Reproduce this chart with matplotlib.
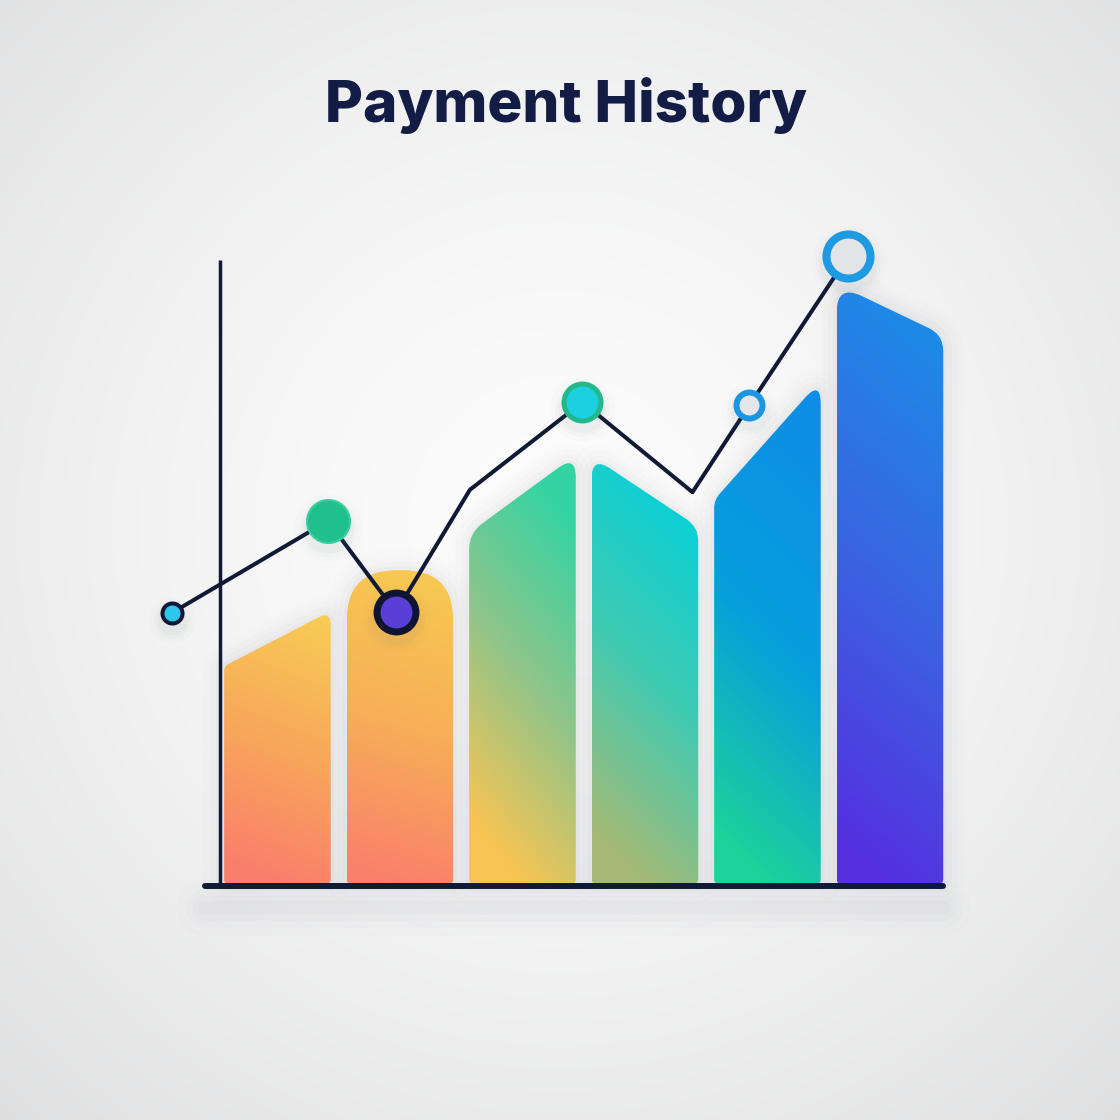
import numpy as np
import matplotlib.pyplot as plt
from matplotlib.path import Path
from matplotlib.patches import PathPatch
from matplotlib.colors import LinearSegmentedColormap

## data
periods = ['Jan', 'Feb', 'Mar', 'Apr', 'May', 'Jun']
bar_left = [36.3, 52.3, 58.5, 71.3, 64.0, 100.0]   # height at left edge of bar
bar_right = [45.5, 52.3, 71.5, 59.5, 84.0, 91.5]   # height at right edge of bar

line_x = [-0.861, 0.412, 0.967, 1.571, 2.490, 3.388, 3.853, 4.661]
line_y = [45.2, 60.5, 45.3, 65.7, 80.3, 65.3, 79.8, 104.7]

## styles
bar_width = 0.87
corner_r = [(5, 4, 14, 5), (5, 50, 50, 5), (5, 16, 22, 5),
            (5, 22, 14, 5), (5, 8, 24, 5), (5, 28, 16, 5)]   # px: bl, tl, tr, br
bar_colors = [('#fa7e6c', '#f8a65b', '#f7c955'),
              ('#fa806b', '#f7ae58', '#f7c852'),
              ('#f8c454', '#8fc58a', '#33d4a4'),
              ('#a5ba76', '#3fcbb3', '#08d0d8'),
              ('#1ed29b', '#069fdc', '#0d8ee6'),
              ('#5530e0', '#3a64e2', '#1c8ce8')]    # bottom, mid, top
tilt = [0.15, 0.1, 0.3, 0.25, 0.2, 0.15]

# which line points get a marker: fill, edge, size (pt), edge width
markers = {0: ('#2fc6ee', '#101836', 14.4, 2.9),
           1: ('#20c08c', '#3ad0a0', 31.0, 1.5),
           2: ('#5a3fd6', '#0f1530', 28.0, 5.0),
           4: ('#1ecfe0', '#22b88a', 26.6, 3.6),
           6: ('#e4e6ea', '#1c96e0', 18.7, 4.3),
           7: ('#e2e4e8', '#1e9ae2', 31.7, 5.8)}

ink = '#111a35'

fig = plt.figure(figsize=(11.2, 11.2), dpi=100)

# background radial gradient
bg = fig.add_axes([0, 0, 1, 1], zorder=0)
yy, xx = np.mgrid[0:1:400j, 0:1:400j]
d = np.clip(np.hypot(xx - 0.5, yy - 0.47) / 0.72, 0, 1) ** 1.6
c0 = np.array([0.988, 0.988, 0.988])
c1 = np.array([0.875, 0.878, 0.882])
bg.imshow(c0 + (c1 - c0) * d[..., None], extent=[0, 1, 0, 1], aspect='auto')
bg.axis('off')

ax = fig.add_axes([0, 0, 1, 1], zorder=1)
ax.patch.set_alpha(0)
ax.set_xlim(-2.265, 6.878)
ax.set_ylim(-39.33, 147.33)
ax.axis('off')


def rounded_path(pts, radii):
    # round every corner of a polygon (pts in pixels) with quadratic curves
    verts, codes = [], []
    n = len(pts)
    for k in range(n):
        p, a, b = pts[k], pts[k - 1], pts[(k + 1) % n]
        da, db = a - p, b - p
        la, lb = np.hypot(*da), np.hypot(*db)
        r = min(radii[k], la / 2, lb / 2)
        verts += [p + da / la * r, p, p + db / lb * r]
        codes += [Path.MOVETO if k == 0 else Path.LINETO, Path.CURVE3, Path.CURVE3]
    verts.append(verts[0])
    codes.append(Path.CLOSEPOLY)
    verts = ax.transData.inverted().transform(np.array(verts))
    return Path(verts, codes)


## baseline shadow
base_x = [-0.592, 5.433]
for lw, a in [(40, 0.015), (28, 0.02), (18, 0.025), (10, 0.03)]:
    ax.plot(base_x, [-4.0, -4.0], color='#7d848e', lw=lw, alpha=a,
            solid_capstyle='round', zorder=1)

## bars
for i in range(len(periods)):
    x0, x1 = i - bar_width / 2, i + bar_width / 2
    corners = ax.transData.transform([(x0, 0), (x0, bar_left[i]),
                                      (x1, bar_right[i]), (x1, 0)])
    path = rounded_path(corners, corner_r[i])

    # soft shadow
    for lw, a in [(30, 0.015), (20, 0.02), (12, 0.03), (5, 0.04)]:
        ax.add_patch(PathPatch(path, facecolor='none', edgecolor='#7d848e',
                               lw=lw, alpha=a, joinstyle='round', zorder=2))

    clip = PathPatch(path, facecolor='none', edgecolor='none', zorder=3)
    ax.add_patch(clip)

    top = max(bar_left[i], bar_right[i])
    ty, tx = np.mgrid[0:1:200j, 0:1:40j]
    t = np.clip(ty + tilt[i] * (tx - 0.5), 0, 1)
    cmap = LinearSegmentedColormap.from_list('b%d' % i, bar_colors[i])
    img = ax.imshow(cmap(t), extent=[x0, x1, 0, top], origin='lower',
                    aspect='auto', interpolation='bilinear', zorder=3)
    img.set_clip_path(clip)

## axes lines
ax.plot([-0.469, -0.469], [0, 104], color=ink, lw=2.5, solid_capstyle='butt', zorder=4)
ax.plot(base_x, [-0.33, -0.33], color=ink, lw=4.3, solid_capstyle='round', zorder=4)

## line with markers
ax.plot(line_x, line_y, color=ink, lw=2.9, solid_joinstyle='round',
        solid_capstyle='round', zorder=5)

for k, (fc, ec, ms, mew) in markers.items():
    for grow, a in [(16, 0.02), (9, 0.03), (4, 0.04)]:
        ax.plot(line_x[k], line_y[k] - 1.2, 'o', ms=ms + mew + grow,
                color='#6f7680', alpha=a, mec='none', zorder=5)
    ax.plot(line_x[k], line_y[k], 'o', ms=ms, mfc=fc, mec=ec, mew=mew, zorder=6)

fig.text(0.505, 1 - 106 / 1120, 'Payment History', ha='center', va='center',
         fontsize=42, fontweight=800, family=['Inter', 'DejaVu Sans'],
         color='#121c44')

fig.savefig('out.png', dpi=100)
